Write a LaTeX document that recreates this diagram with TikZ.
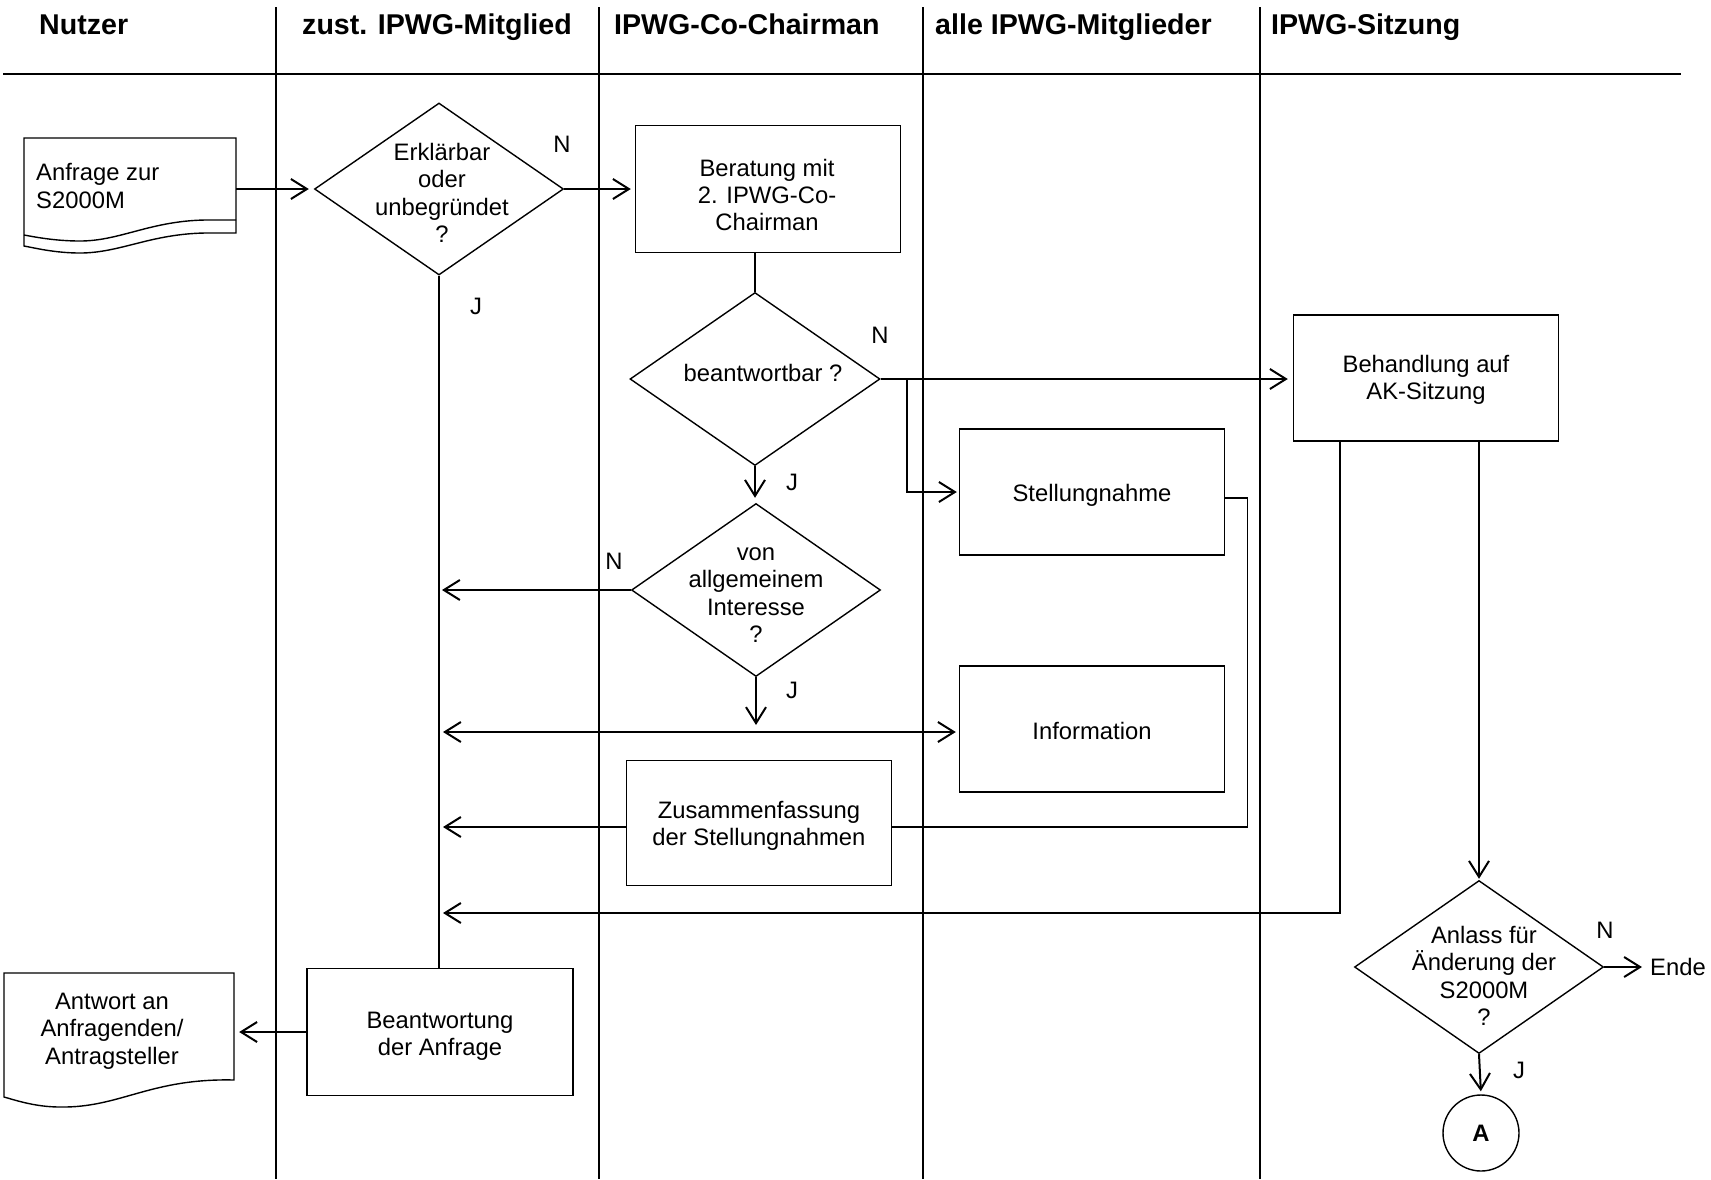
\documentclass[tikz,border=0pt]{standalone}
\usepackage{fontspec}
\setmainfont{Liberation Sans}
\usetikzlibrary{shapes.geometric,arrows.meta,calc}
\begin{document}
\begin{tikzpicture}[x=1pt,y=-1pt,
  body/.style={font=\fontsize{23.8}{27.3}\selectfont},
  head/.style={font=\bfseries\fontsize{28.6}{33}\selectfont, anchor=base west, inner sep=0pt},
  boxnode/.style={draw, line width=1.4pt, rectangle, inner sep=0pt},
  dia/.style={draw, line width=1.4pt, diamond, inner sep=0pt},
  txt/.style={align=center, inner sep=0pt, body},
  lbl/.style={inner sep=0pt, body},
  lane/.style={line width=1.4pt},
  arr/.style={line width=2pt, -{Straight Barb[length=16pt,width=20pt,line width=2pt]}},
  dblarr/.style={line width=2pt, {Straight Barb[length=16pt,width=20pt,line width=2pt]}-{Straight Barb[length=16pt,width=20pt,line width=2pt]}},
  conn/.style={line width=2pt}
]
\fill[white] (0,0) rectangle (1711,1179);
\useasboundingbox (0,0) rectangle (1711,1179);

% lanes
\draw[lane] (276,7) -- (276,1179);
\draw[lane] (599,7) -- (599,1179);
\draw[lane] (923,7) -- (923,1179);
\draw[lane] (1260,7) -- (1260,1179);
\draw[line width=2pt] (3,74) -- (1681,74);

% headers
\node[head] (h1) at (39,34) {Nutzer};
\node[head] (h2) at (302,34) {zust. IPWG-Mitglied};
\node[head] (h3) at (614,34) {IPWG-Co-Chairman};
\node[head] (h4) at (935,34) {alle IPWG-Mitglieder};
\node[head] (h5) at (1271,34) {IPWG-Sitzung};

% document 1
\node[minimum width=212pt, minimum height=108pt, inner sep=0pt] (doc1) at (130,192) {};
\draw[line width=1.4pt] (24,138) -- (236,138) -- (236,233) -- (205,233)
  .. controls (150,234) and (120,253) .. (80,253)
  .. controls (55,253) and (35,248) .. (24,246) -- cycle;
\draw[line width=1.4pt] (236,220) -- (205,220)
  .. controls (150,221) and (120,241) .. (80,241)
  .. controls (55,241) and (35,237) .. (24,235);
\node[txt, align=left, anchor=west] (doc1t) at (36,186) {Anfrage zur\\S2000M};

% document 2
\node[minimum width=230pt, minimum height=124pt, inner sep=0pt] (doc2) at (119,1035) {};
\draw[line width=1.4pt] (4,973) -- (234,973) -- (234,1080)
  .. controls (150,1078) and (120,1108) .. (60,1107)
  .. controls (35,1107) and (15,1100) .. (4,1097) -- cycle;
\node[txt] (doc2t) at (112,1031) {Antwort an\\Anfragenden/\\Antragsteller};

% diamonds
\node[dia, minimum width=249pt, minimum height=172pt] (d1) at (439,189) {};
\node[txt] (d1t) at (442,193) {Erklärbar\\oder\\unbegründet\\?};
\node[dia, minimum width=250pt, minimum height=173pt] (d2) at (755,379) {};
\node[txt] (d2t) at (763,373) {beantwortbar ?};
\node[dia, minimum width=249pt, minimum height=173pt] (d3) at (756,590) {};
\node[txt] (d3t) at (756,595) {von\\allgemeinem\\Interesse\\?};
\node[dia, minimum width=249pt, minimum height=173pt] (d4) at (1479,967) {};
\node[txt] (d4t) at (1484,976) {Anlass für\\Änderung der\\S2000M\\?};

% boxes
\node[boxnode, minimum width=265pt, minimum height=127pt] (ber) at (768,189) {};
\node[txt] (bert) at (767,195) {Beratung mit\\2. IPWG-Co-\\Chairman};
\node[boxnode, minimum width=265pt, minimum height=126pt] (beh) at (1426,378) {};
\node[txt] (beht) at (1426,380) {Behandlung auf\\AK-Sitzung};
\node[boxnode, minimum width=265pt, minimum height=126pt] (stel) at (1092,492) {};
\node[txt] (stelt) at (1092,495) {Stellungnahme};
\node[boxnode, minimum width=265pt, minimum height=126pt] (info) at (1092,729) {};
\node[txt] (infot) at (1092,731) {Information};
\node[boxnode, minimum width=265pt, minimum height=125pt] (zus) at (759,823) {};
\node[txt] (zust) at (759,826) {Zusammenfassung\\der Stellungnahmen};
\node[boxnode, minimum width=266pt, minimum height=127pt] (bea) at (440,1032) {};
\node[txt] (beat) at (440,1036) {Beantwortung\\der Anfrage};
\node[draw, circle, line width=1.4pt, minimum size=76pt, inner sep=0pt, font=\bfseries\fontsize{23.8}{27.3}\selectfont] (circA) at (1481,1133) {A};
\node[lbl, anchor=west] (ende) at (1650,967) {Ende};

% labels
\node[lbl] (n1) at (562,144) {N};
\node[lbl] (j1) at (476,306) {J};
\node[lbl] (n2) at (880,335) {N};
\node[lbl] (j2) at (792,482) {J};
\node[lbl] (n3) at (614,561) {N};
\node[lbl] (j3) at (792,690) {J};
\node[lbl] (n4) at (1605,930) {N};
\node[lbl] (j4) at (1519,1070) {J};

\coordinate (ret) at (439,913);

% connectors
\draw[arr, shorten >=5pt] (d1.west -| doc1.east) -- (d1.west);
\draw[arr, shorten >=4pt] (d1.east) -- (d1.east -| ber.west);
\draw[conn] (d1.south) -- (d1.south |- bea.north);
\draw[conn] (d2.north |- ber.south) -- (d2.north);
\draw[arr, shorten >=5pt] (d2.east) -- (d2.east -| beh.west);
\draw[arr, shorten >=2pt] (d2.east) -- ++(26,0) |- (stel.west);
\draw[arr, shorten >=5pt] (d2.south) -- (d2.south |- d3.north);
\draw[arr, shorten >=3pt] (d3.west) -- (d3.west -| d1.south);
\draw[arr, shorten >=4pt] (d3.south) -- (d3.south |- info.west);
\draw[dblarr, shorten <=4pt, shorten >=3pt] ([yshift=-3pt]info.west -| d1.south) -- ([yshift=-3pt]info.west);
\draw[conn, line width=1.4pt] ([yshift=-6pt]stel.east) -- ++(22,0) |- ([yshift=-4pt]zus.east);
\draw[arr, shorten >=4pt] ([yshift=-4pt]zus.west) -- ([yshift=-4pt]zus.west -| d1.south);
\draw[arr, shorten >=4pt] ([xshift=-86pt]beh.south) |- (ret);
\draw[arr, shorten >=1pt] (d4.north |- beh.south) -- (d4.north);
\draw[arr, shorten >=8pt] (d4.east) -- (ende.west);
\draw[arr, shorten >=3pt] (d4.south) -- (circA.north);
\draw[arr, shorten >=5pt] (bea.west) -- (bea.west -| doc2.east);
\end{tikzpicture}
\end{document}
